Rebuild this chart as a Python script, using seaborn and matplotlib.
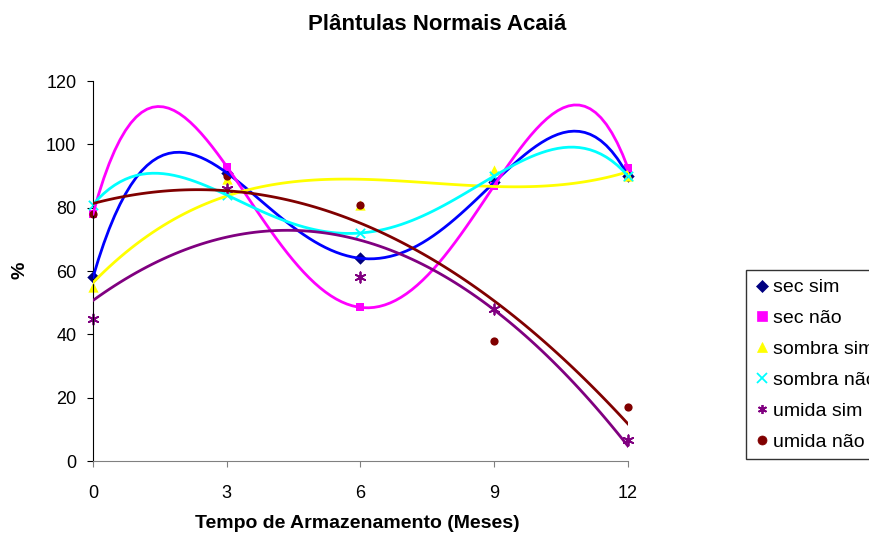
import numpy as np
import pandas as pd
import seaborn as sns
import matplotlib
matplotlib.use("Agg")
import matplotlib.pyplot as plt
from matplotlib.lines import Line2D

# Dados
meses = [0, 3, 6, 9, 12]
sec_sim = [58, 91, 64, 88, 90]
sec_nao = [78, 93, 48.5, 87, 92.5]
sombra_sim = [55, 89, 81, 92, 90]
sombra_nao = [81, 84, 72, 90, 90]
umida_sim = [45, 86, 58, 48, 6.5]
umida_nao = [78, 90, 81, 38, 17]

series = ["sec sim", "sec não", "sombra sim", "sombra não", "umida sim", "umida não"]
valores = [sec_sim, sec_nao, sombra_sim, sombra_nao, umida_sim, umida_nao]
# ordem do polinomio da linha de tendencia
ordens = [4, 4, 3, 4, 2, 2]

cor_marker = ["#000080", "#FF00FF", "#FFFF00", "#00FFFF", "#800080", "#800000"]
cor_linha = ["#0000FF", "#FF00FF", "#FFFF00", "#00FFFF", "#800080", "#800000"]
markers = ["D", "s", "^", "x", (6, 2, 0), "o"]
msizes = [40, 40, 55, 45, 55, 35]

plt.rcParams["font.family"] = ["Liberation Sans", "DejaVu Sans"]

fig, ax = plt.subplots(figsize=(8.7, 5.35), dpi=100)
fig.subplots_adjust(left=93/870, right=628/870, top=1-81/535, bottom=1-461/535)

df = pd.DataFrame({"mes": meses})
for nome, v in zip(series, valores):
    df[nome] = v

# pontos (desenhados abaixo das linhas, como no Excel)
handles = []
for nome, cm, mk, ms in zip(series, cor_marker, markers, msizes):
    lw = 1.3 if mk in ("x", (6, 2, 0)) else 0
    sns.scatterplot(data=df, x="mes", y=nome, ax=ax, color=cm, marker=mk,
                    s=ms, linewidth=lw, edgecolor=cm, zorder=2, clip_on=False)
    handles.append(Line2D([], [], ls="", marker=mk, color=cm, markersize=6.5,
                          markeredgewidth=lw if lw else 0.5, label=nome))

# linhas de tendencia polinomiais
for nome, ordem, cl in zip(series, ordens, cor_linha):
    sns.regplot(data=df, x="mes", y=nome, order=ordem, ci=None, scatter=False,
                ax=ax, line_kws={"color": cl, "lw": 2.0, "zorder": 3})

ax.set_xlim(0, 12)
ax.set_ylim(0, 120)
ax.set_xticks(meses)
ax.set_yticks(range(0, 121, 20))
ax.set_xlabel("")
ax.set_ylabel("")
for s in ["top", "right"]:
    ax.spines[s].set_visible(False)
ax.spines["left"].set_color("black")
ax.spines["bottom"].set_color("#808080")
ax.tick_params(axis="both", direction="out", length=4, labelsize=13)
ax.tick_params(axis="y", pad=8)
ax.tick_params(axis="x", pad=13, colors="#808080", labelcolor="black")

fig.text(437/870, 1-25/535, "Plântulas Normais Acaiá", ha="center", va="center",
         fontsize=16, fontweight="bold")
fig.text(357/870, 1-523/535, "Tempo de Armazenamento (Meses)", ha="center",
         va="center", fontsize=14, fontweight="bold")
fig.text(20/870, 1-270/535, "%", ha="center", va="center", rotation=90,
         fontsize=14, fontweight="bold")

# legenda como no original: fica cortada na borda direita da figura
leg = ax.legend(handles=handles, loc="upper left", bbox_to_anchor=(746/870, 1-270/535),
                bbox_transform=fig.transFigure, frameon=True, fancybox=False,
                edgecolor="black", fontsize=14, handletextpad=0.2,
                handlelength=0.75, labelspacing=0.68, borderpad=0.45,
                borderaxespad=0)
leg.get_frame().set_linewidth(1.0)

fig.savefig("out.png", dpi=100)
